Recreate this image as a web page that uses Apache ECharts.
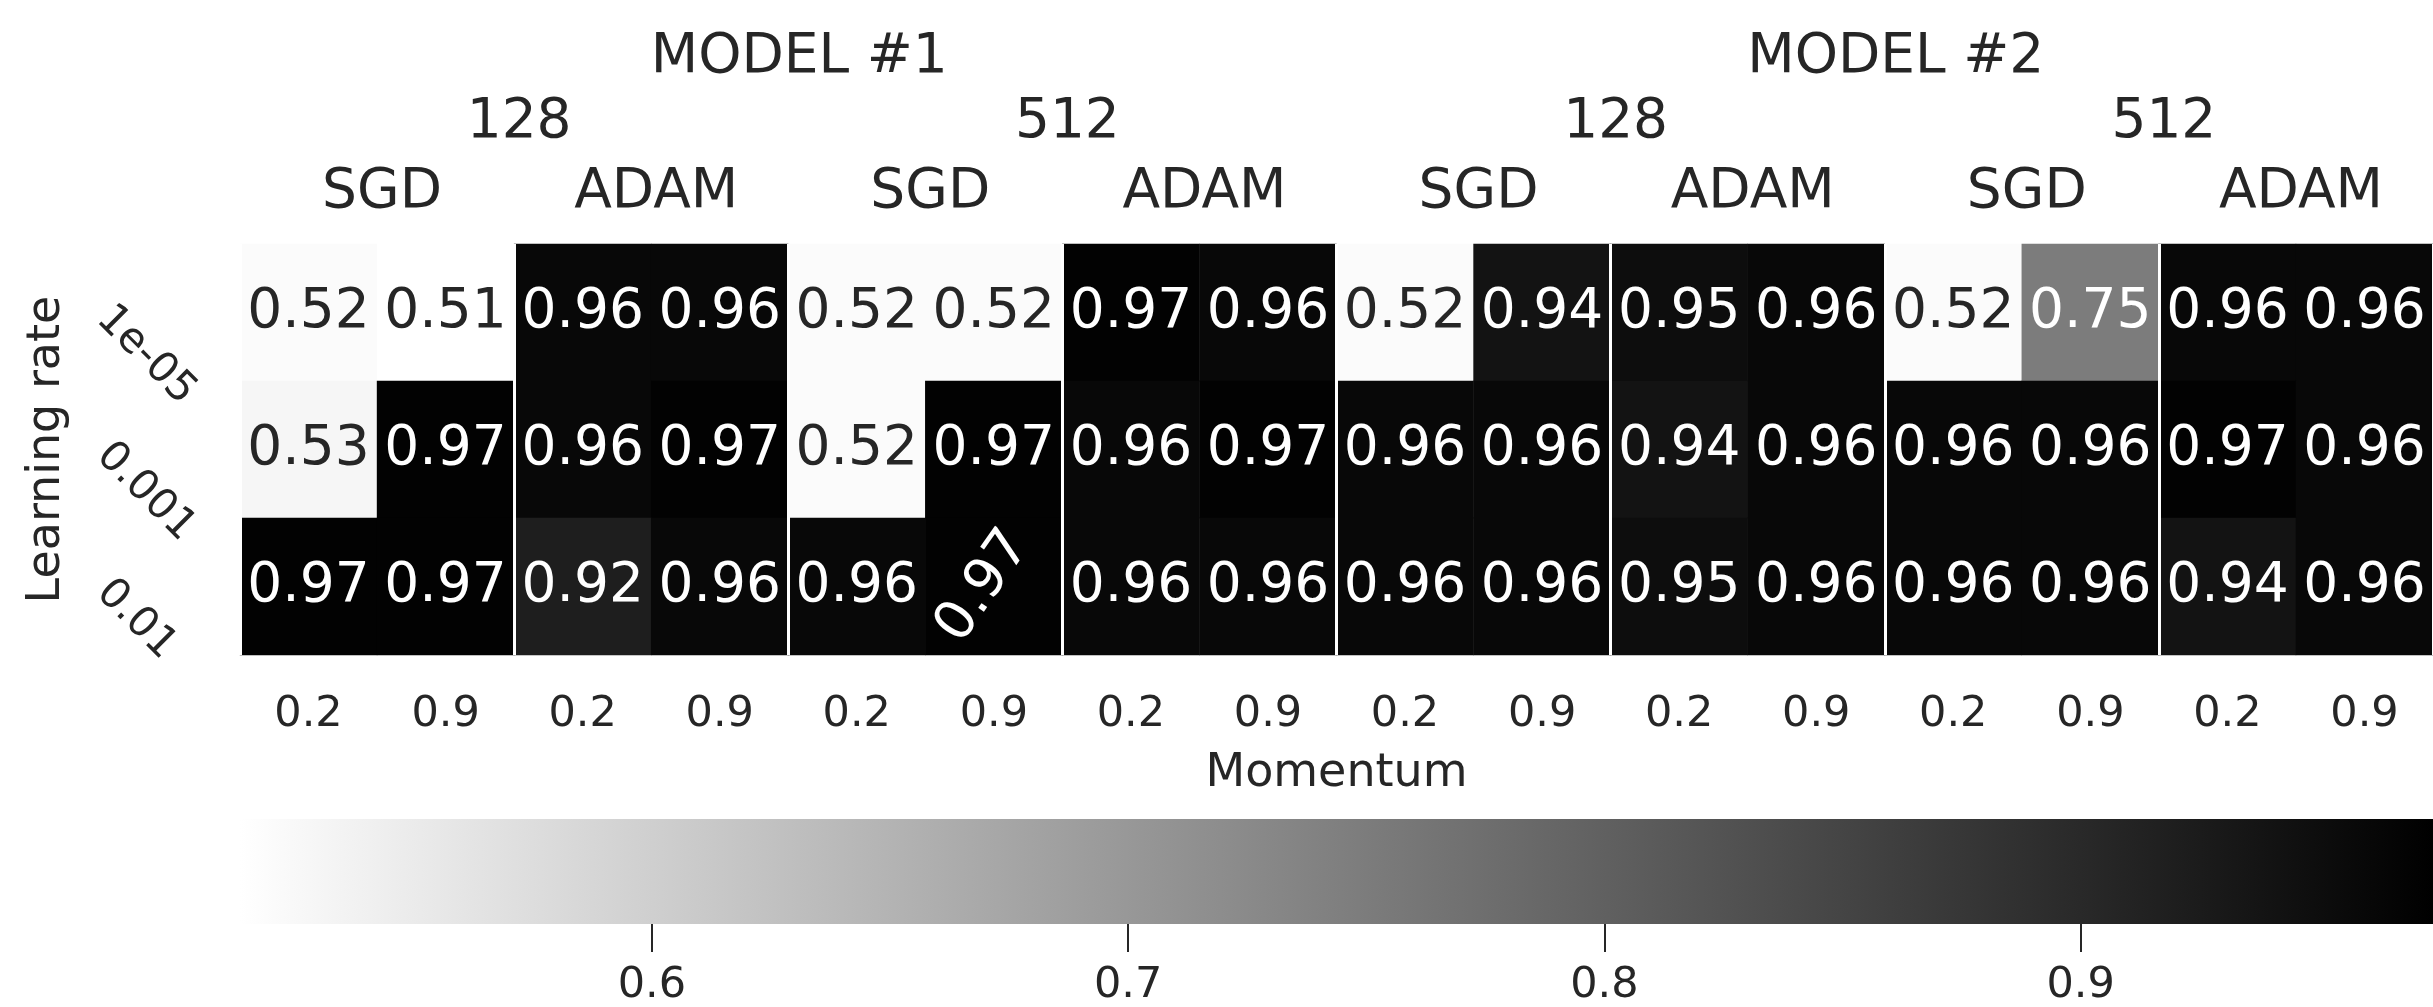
<!DOCTYPE html>
<html>
<head>
<meta charset="utf-8">
<script src="https://cdn.jsdelivr.net/npm/echarts@6/dist/echarts.min.js"></script>
<style>
  html, body { margin: 0; padding: 0; background: #ffffff; }
  #chart { width: 2433px; height: 1007px; }
</style>
</head>
<body>
<div id="chart"></div>
<script>
// ---- data ----
const LEARNING_RATES = ['1e-05', '0.001', '0.01'];
const MOMENTUM = ['0.2','0.9','0.2','0.9','0.2','0.9','0.2','0.9','0.2','0.9','0.2','0.9','0.2','0.9','0.2','0.9'];
const OPTIMIZERS = ['SGD','ADAM','SGD','ADAM','SGD','ADAM','SGD','ADAM'];
const BATCH_SIZES = ['128','512','128','512'];
const MODELS = ['MODEL #1','MODEL #2'];

const ROW_LR_1E05  = [0.52, 0.51, 0.96, 0.96, 0.52, 0.52, 0.97, 0.96, 0.52, 0.94, 0.95, 0.96, 0.52, 0.75, 0.96, 0.96];
const ROW_LR_0001  = [0.53, 0.97, 0.96, 0.97, 0.52, 0.97, 0.96, 0.97, 0.96, 0.96, 0.94, 0.96, 0.96, 0.96, 0.97, 0.96];
const ROW_LR_001   = [0.97, 0.97, 0.92, 0.96, 0.96, 0.97, 0.96, 0.96, 0.96, 0.96, 0.95, 0.96, 0.96, 0.96, 0.94, 0.96];

const COLORBAR_TICKS = [0.6, 0.7, 0.8, 0.9];
const COLOR_MIN = 0.5135;
const COLOR_MAX = 0.974;

// ---- build ----
const FONT = '"DejaVu Sans", "Noto Sans", sans-serif';
const TEXT = '#262626';
const rows = [ROW_LR_1E05, ROW_LR_0001, ROW_LR_001];

function textColorFor(v) {
  const t = Math.max(0, Math.min(1, (v - COLOR_MIN) / (COLOR_MAX - COLOR_MIN)));
  const g = 1 - t;
  const lin = g <= 0.03928 ? g / 12.92 : Math.pow((g + 0.055) / 1.055, 2.4);
  return lin > 0.408 ? TEXT : '#ffffff';
}

const heatData = [];
rows.forEach((row, r) => {
  row.forEach((v, c) => {
    const item = { value: [c, r, v], label: { color: textColorFor(v) } };
    if (r === 2 && c === 5) { // the one tilted annotation in the reference
      item.label.rotate = 55;
      item.label.offset = [-6, -8];
    }
    heatData.push(item);
  });
});

const chart = echarts.init(document.getElementById('chart'), null, { renderer: 'canvas' });

function topAxis(data, offset, padLeft, extra) {
  return Object.assign({
    type: 'category',
    gridIndex: 0,
    position: 'top',
    data: data,
    offset: offset,
    axisLine: { show: false },
    axisTick: { show: false },
    splitLine: { show: false },
    axisLabel: { fontSize: 55, fontFamily: FONT, color: TEXT, margin: 24, interval: 0,
      padding: [0, 0, 0, padLeft] }
  }, extra || {});
}

const option = {
  backgroundColor: '#ffffff',
  animation: false,
  textStyle: { fontFamily: FONT },
  grid: [
    { left: 240, right: 0, top: 244, height: 411, containLabel: false },
    {
      left: 240, right: 0, top: 819, height: 108, show: true, borderWidth: 0,
      backgroundColor: new echarts.graphic.LinearGradient(0, 0, 1, 0, [
        { offset: 0, color: '#ffffff' },
        { offset: 1, color: '#000000' }
      ])
    }
  ],
  xAxis: [
    {
      type: 'category', gridIndex: 0, position: 'bottom', data: MOMENTUM,
      axisLine: { show: false }, axisTick: { show: false }, splitLine: { show: false },
      axisLabel: { fontSize: 43, fontFamily: FONT, color: TEXT, margin: 38, interval: 0 },
      name: 'Momentum', nameLocation: 'middle', nameGap: 96,
      nameTextStyle: { fontSize: 46, fontFamily: FONT, color: TEXT }
    },
    topAxis(OPTIMIZERS, 0, 10, {
      z: 10,
      axisTick: { show: true, inside: true, length: 411, interval: 0,
        lineStyle: { color: '#ffffff', width: 3 } }
    }),
    topAxis(BATCH_SIZES, 70, 10),
    topAxis(MODELS, 135, 22),
    {
      type: 'value', gridIndex: 1, position: 'bottom', min: COLOR_MIN, max: COLOR_MAX,
      axisLine: { show: false }, splitLine: { show: false },
      axisTick: { show: true, length: 28, customValues: COLORBAR_TICKS,
        lineStyle: { color: TEXT, width: 2 } },
      axisLabel: { fontSize: 43, fontFamily: FONT, color: TEXT, margin: 40,
        customValues: COLORBAR_TICKS, formatter: v => String(Math.round(v * 10) / 10) }
    }
  ],
  yAxis: [
    {
      type: 'category', gridIndex: 0, data: LEARNING_RATES, inverse: true,
      axisLine: { show: false }, axisTick: { show: false }, splitLine: { show: false },
      axisLabel: { fontSize: 42, fontFamily: FONT, color: TEXT, rotate: -45, align: 'left',
        margin: 137, interval: 0 },
      name: 'Learning rate', nameLocation: 'middle', nameGap: 170, nameRotate: 90,
      nameTextStyle: { fontSize: 46, fontFamily: FONT, color: TEXT }
    },
    { type: 'value', gridIndex: 1, show: false, min: 0, max: 1 }
  ],
  visualMap: {
    show: false, type: 'continuous', seriesIndex: 0, dimension: 2,
    min: COLOR_MIN, max: COLOR_MAX,
    inRange: { color: ['#ffffff', '#000000'] }
  },
  series: [{
    type: 'heatmap',
    xAxisIndex: 0, yAxisIndex: 0,
    data: heatData,
    label: {
      show: true, fontSize: 55, fontFamily: FONT,
      formatter: p => p.value[2].toFixed(2)
    },
    emphasis: { disabled: true },
    itemStyle: { borderWidth: 0 }
  }]
};

chart.setOption(option);
</script>
</body>
</html>
